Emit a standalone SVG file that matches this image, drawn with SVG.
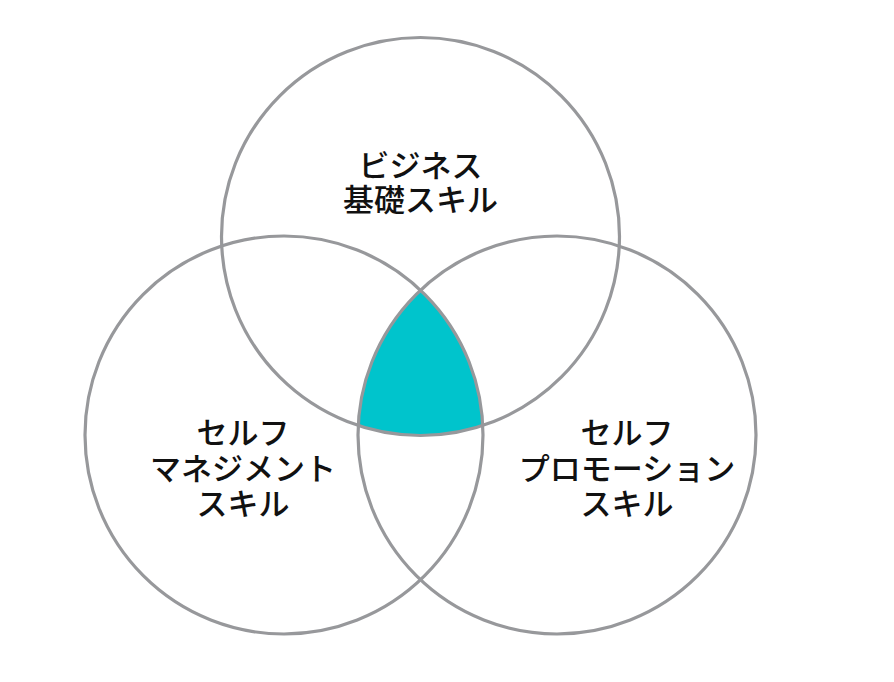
<svg xmlns="http://www.w3.org/2000/svg" width="894" height="682" viewBox="0 0 894 682">
  <style>
    .ring { fill: none; stroke: #97989b; stroke-width: 3.2; }
    .core { fill: #00c4cc; stroke: none; }
    .lbl { font-family: "Noto Sans CJK JP", "Noto Sans", sans-serif; font-size: 31px; font-weight: 500; fill: #111111; text-anchor: middle; }
  </style>
  <rect width="894" height="682" fill="#ffffff"/>
  <g id="overlap">
    <path class="core" d="M 420.5 290.2 A 199 199 0 0 0 358.2 425.5 A 199 199 0 0 0 482.8 425.5 A 199 199 0 0 0 420.5 290.2 Z"/>
  </g>
  <g id="business">
    <circle class="ring" cx="420.5" cy="236.5" r="199"/>
    <text class="lbl"><tspan x="420.5" y="177">ビジネス</tspan><tspan x="420.5" y="211">基礎スキル</tspan></text>
  </g>
  <g id="self-management">
    <circle class="ring" cx="284" cy="435" r="199"/>
    <text class="lbl"><tspan x="243" y="444">セルフ</tspan><tspan x="243" y="480">マネジメント</tspan><tspan x="243" y="515">スキル</tspan></text>
  </g>
  <g id="self-promotion">
    <circle class="ring" cx="557" cy="435" r="199"/>
    <text class="lbl"><tspan x="627" y="444">セルフ</tspan><tspan x="627" y="480">プロモーション</tspan><tspan x="627" y="515">スキル</tspan></text>
  </g>
  <g id="connectors"></g>
</svg>
